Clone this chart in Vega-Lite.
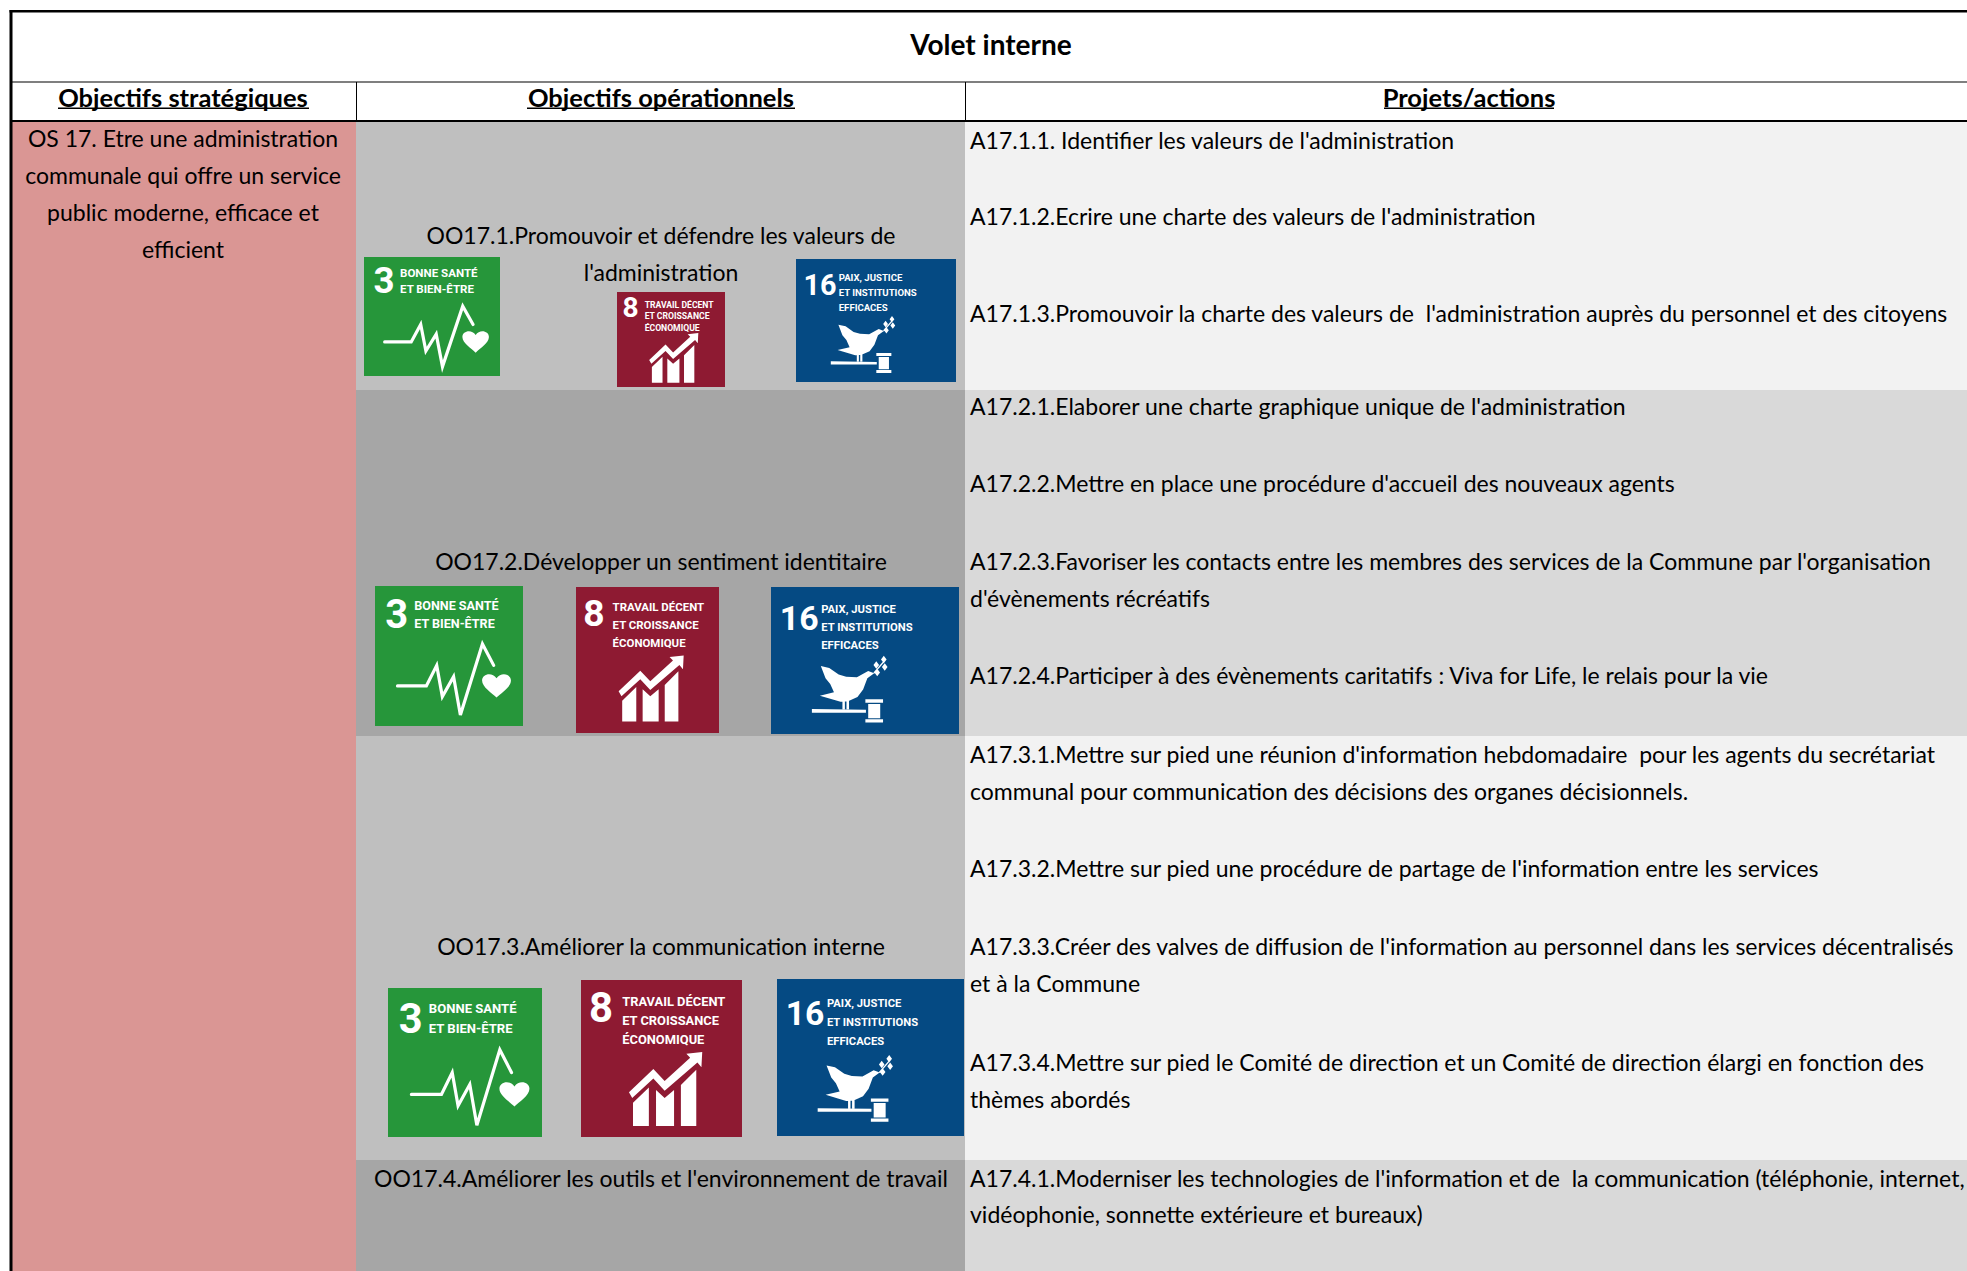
{
"$schema":"https://vega.github.io/schema/vega-lite/v6.json",
"width":1967,"height":1271,"padding":0,"autosize":{"type":"none"},"background":"#ffffff",
"config":{"view":{"stroke":null},"text":{"font":"Lato","fontSize":23,"color":"#000000"}},
"datasets":{
"cells":[
{"band":"os","x0":12,"x1":356,"y0":121,"y1":1271},
{"band":"oo1","x0":356,"x1":965,"y0":121,"y1":390},
{"band":"oo2","x0":356,"x1":965,"y0":390,"y1":736},
{"band":"oo1","x0":356,"x1":965,"y0":736,"y1":1160},
{"band":"oo2","x0":356,"x1":965,"y0":1160,"y1":1271},
{"band":"a1","x0":965,"x1":1967,"y0":121,"y1":390},
{"band":"a2","x0":965,"x1":1967,"y0":390,"y1":736},
{"band":"a1","x0":965,"x1":1967,"y0":736,"y1":1160},
{"band":"a2","x0":965,"x1":1967,"y0":1160,"y1":1271},
{"band":"line","x0":9.5,"x1":12.5,"y0":10,"y1":1271},
{"band":"line","x0":9.5,"x1":1967,"y0":10,"y1":12.5},
{"band":"line","x0":12,"x1":1967,"y0":81.5,"y1":82.5},
{"band":"line","x0":12,"x1":1967,"y0":120,"y1":122},
{"band":"line","x0":356,"x1":357,"y0":82,"y1":121},
{"band":"line","x0":965,"x1":966,"y0":82,"y1":121},
{"band":"line","x0":58,"x1":309,"y0":107.5,"y1":109},
{"band":"line","x0":527,"x1":795,"y0":107.5,"y1":109},
{"band":"line","x0":1384,"x1":1554,"y0":107.5,"y1":109}
],
"icons":[
{"id":"a3","goal":3,"x0":364,"x1":500,"y0":257,"y1":376},
{"id":"a8","goal":8,"x0":617,"x1":725,"y0":292,"y1":387},
{"id":"a16","goal":16,"x0":796,"x1":956,"y0":259,"y1":382},
{"id":"b3","goal":3,"x0":375,"x1":523,"y0":586,"y1":726},
{"id":"b8","goal":8,"x0":576,"x1":719,"y0":587,"y1":733},
{"id":"b16","goal":16,"x0":771,"x1":959,"y0":587,"y1":734},
{"id":"c3","goal":3,"x0":388,"x1":542,"y0":988,"y1":1137},
{"id":"c8","goal":8,"x0":581,"x1":742,"y0":980,"y1":1137},
{"id":"c16","goal":16,"x0":777,"x1":964,"y0":979,"y1":1136}
],
"iconLabels":[
{"goal":3,"lines":["3","BONNE SANTÉ","ET BIEN-ÊTRE"],"fx":[0.07,0.265,0.265],"fy":[0.30,0.171,0.30],"fs":[0.27,0.085,0.085]},
{"goal":8,"lines":["8","TRAVAIL DÉCENT","ET CROISSANCE","ÉCONOMIQUE"],"fx":[0.05,0.256,0.256,0.256],"fy":[0.267,0.164,0.288,0.409],"fs":[0.26,0.08,0.08,0.08]},
{"goal":16,"lines":["16","PAIX, JUSTICE","ET INSTITUTIONS","EFFICACES"],"fx":[0.047,0.267,0.267,0.267],"fy":[0.293,0.179,0.30,0.422],"fs":[0.18,0.06,0.06,0.06]}
],
"pulse":[
{"goal":3,"px":[0.152,0.347,0.417,0.455,0.531,0.577,0.726,0.802],"py":[0.714,0.714,0.567,0.79,0.648,0.921,0.414,0.567]}
],
"heading":[
{"text":"Volet interne","x":991,"y":47}
],
"titles":[
{"text":"Objectifs stratégiques","x":183,"y":99},
{"text":"Objectifs opérationnels","x":661,"y":99},
{"text":"Projets/actions","x":1469,"y":99}
],
"centred":[
{"text":"OS 17. Etre une administration","x":183,"y":140},
{"text":"communale qui offre un service","x":183,"y":177},
{"text":"public moderne, efficace et","x":183,"y":214},
{"text":"efficient","x":183,"y":251},
{"text":"OO17.1.Promouvoir et défendre les valeurs de","x":661,"y":237},
{"text":"l'administration","x":661,"y":274},
{"text":"OO17.2.Développer un sentiment identitaire","x":661,"y":563},
{"text":"OO17.3.Améliorer la communication interne","x":661,"y":948},
{"text":"OO17.4.Améliorer les outils et l'environnement de travail","x":661,"y":1180}
],
"actions":[
{"text":"A17.1.1. Identifier les valeurs de l'administration","x":970,"y":142},
{"text":"A17.1.2.Ecrire une charte des valeurs de l'administration","x":970,"y":218},
{"text":"A17.1.3.Promouvoir la charte des valeurs de \u00a0l'administration auprès du personnel et des citoyens","x":970,"y":315},
{"text":"A17.2.1.Elaborer une charte graphique unique de l'administration","x":970,"y":408},
{"text":"A17.2.2.Mettre en place une procédure d'accueil des nouveaux agents","x":970,"y":485},
{"text":"A17.2.3.Favoriser les contacts entre les membres des services de la Commune par l'organisation","x":970,"y":563},
{"text":"d'évènements récréatifs","x":970,"y":600},
{"text":"A17.2.4.Participer à des évènements caritatifs : Viva for Life, le relais pour la vie","x":970,"y":677},
{"text":"A17.3.1.Mettre sur pied une réunion d'information hebdomadaire \u00a0pour les agents du secrétariat","x":970,"y":756},
{"text":"communal pour communication des décisions des organes décisionnels.","x":970,"y":793},
{"text":"A17.3.2.Mettre sur pied une procédure de partage de l'information entre les services","x":970,"y":870},
{"text":"A17.3.3.Créer des valves de diffusion de l'information au personnel dans les services décentralisés","x":970,"y":948},
{"text":"et à la Commune","x":970,"y":985},
{"text":"A17.3.4.Mettre sur pied le Comité de direction et un Comité de direction élargi en fonction des","x":970,"y":1064},
{"text":"thèmes abordés","x":970,"y":1101},
{"text":"A17.4.1.Moderniser les technologies de l'information et de \u00a0la communication (téléphonie, internet,","x":970,"y":1180},
{"text":"vidéophonie, sonnette extérieure et bureaux)","x":970,"y":1216}
]
},
"layer":[
{"data":{"name":"cells"},"mark":{"type":"rect","strokeWidth":0},
 "encoding":{
  "x":{"field":"x0","type":"quantitative","scale":{"domain":[0,1967],"nice":false,"zero":false},"axis":null},
  "x2":{"field":"x1"},
  "y":{"field":"y0","type":"quantitative","scale":{"domain":[0,1271],"reverse":true,"nice":false,"zero":false},"axis":null},
  "y2":{"field":"y1"},
  "color":{"field":"band","type":"nominal","legend":null,"scale":{"domain":["os","oo1","oo2","a1","a2","line"],"range":["#DA9694","#BFBFBF","#A6A6A6","#F2F2F2","#D9D9D9","#000000"]}}
 }},
{"data":{"name":"icons"},"mark":{"type":"rect","strokeWidth":0},
 "encoding":{
  "x":{"field":"x0","type":"quantitative","scale":{"domain":[0,1967],"nice":false,"zero":false},"axis":null},
  "x2":{"field":"x1"},
  "y":{"field":"y0","type":"quantitative","scale":{"domain":[0,1271],"reverse":true,"nice":false,"zero":false},"axis":null},
  "y2":{"field":"y1"},
  "fill":{"field":"goal","type":"nominal","legend":null,"scale":{"domain":[3,8,16],"range":["#26963A","#8E1A32","#054A83"]}}
 }},
{"data":{"name":"icons"},
 "transform":[
  {"lookup":"goal","from":{"data":{"name":"iconLabels"},"key":"goal","fields":["lines","fx","fy","fs"]}},
  {"flatten":["lines","fx","fy","fs"]},
  {"calculate":"datum.x0+datum.fx*(datum.x1-datum.x0)","as":"lx"},
  {"calculate":"datum.y0+datum.fy*(datum.y1-datum.y0)","as":"ly"},
  {"calculate":"datum.fs*(datum.x1-datum.x0)","as":"ls"}
 ],
 "mark":{"type":"text","font":"Roboto","fontWeight":"bold","align":"left","baseline":"alphabetic","color":"#ffffff"},
 "encoding":{
  "x":{"field":"lx","type":"quantitative","scale":{"domain":[0,1967],"nice":false,"zero":false},"axis":null},
  "y":{"field":"ly","type":"quantitative","scale":{"domain":[0,1271],"reverse":true,"nice":false,"zero":false},"axis":null},
  "size":{"field":"ls","type":"quantitative","scale":null,"legend":null},
  "text":{"field":"lines","type":"nominal"}
 }},
{"data":{"name":"icons"},
 "transform":[
  {"filter":"datum.goal==3"},
  {"lookup":"goal","from":{"data":{"name":"pulse"},"key":"goal","fields":["px","py"]}},
  {"flatten":["px","py"]},
  {"calculate":"datum.x0+datum.px*(datum.x1-datum.x0)","as":"lx"},
  {"calculate":"datum.y0+datum.py*(datum.y1-datum.y0)","as":"ly"}
 ],
 "mark":{"type":"line","color":"#ffffff","strokeWidth":3.2,"strokeCap":"round","strokeJoin":"miter"},
 "encoding":{
  "x":{"field":"lx","type":"quantitative","scale":{"domain":[0,1967],"nice":false,"zero":false},"axis":null},
  "y":{"field":"ly","type":"quantitative","scale":{"domain":[0,1271],"reverse":true,"nice":false,"zero":false},"axis":null},
  "detail":{"field":"id","type":"nominal"}
 }},
{"data":{"name":"icons"},
 "transform":[
  {"filter":"datum.goal==3"},
  {"calculate":"datum.x0+0.821*(datum.x1-datum.x0)","as":"lx"},
  {"calculate":"datum.y0+0.707*(datum.y1-datum.y0)","as":"ly"},
  {"calculate":"pow(datum.x1-datum.x0,2)","as":"ls"}
 ],
 "mark":{"type":"point","filled":true,"opacity":1,"color":"#ffffff","strokeWidth":0,
  "shape":"M0 .17 C-.06 .11 -.195 .03 -.195 -.06 C-.195 -.15 -.06 -.18 0 -.09 C.06 -.18 .195 -.15 .195 -.06 C.195 .03 .06 .11 0 .17 Z"},
 "encoding":{
  "x":{"field":"lx","type":"quantitative","scale":{"domain":[0,1967],"nice":false,"zero":false},"axis":null},
  "y":{"field":"ly","type":"quantitative","scale":{"domain":[0,1271],"reverse":true,"nice":false,"zero":false},"axis":null},
  "size":{"field":"ls","type":"quantitative","scale":null,"legend":null}
 }},
{"data":{"name":"icons"},
 "transform":[
  {"filter":"datum.goal==8"},
  {"calculate":"datum.x0+0.528*(datum.x1-datum.x0)","as":"lx"},
  {"calculate":"datum.y0+0.705*(datum.y1-datum.y0)","as":"ly"},
  {"calculate":"pow(datum.x1-datum.x0,2)","as":"ls"}
 ],
 "mark":{"type":"point","filled":true,"opacity":1,"color":"#ffffff","strokeWidth":0,
  "shape":"M-.46 .02 L-.157 -.27 L-.017 -.12 L.30 -.41 L.253 -.46 L.45 -.48 L.44 -.29 L.39 -.35 L-.017 .0 L-.157 -.15 L-.42 .09 Z M-.41 .15 L-.213 -.04 L-.213 .44 L-.41 .44 Z M-.124 -.01 L-.017 .09 L.10 -.01 L.10 .44 L-.124 .44 Z M.185 -.07 L.376 -.26 L.376 .44 L.185 .44 Z"},
 "encoding":{
  "x":{"field":"lx","type":"quantitative","scale":{"domain":[0,1967],"nice":false,"zero":false},"axis":null},
  "y":{"field":"ly","type":"quantitative","scale":{"domain":[0,1271],"reverse":true,"nice":false,"zero":false},"axis":null},
  "size":{"field":"ls","type":"quantitative","scale":null,"legend":null}
 }},
{"data":{"name":"icons"},
 "transform":[
  {"filter":"datum.goal==16"},
  {"calculate":"datum.x0+0.41*(datum.x1-datum.x0)","as":"lx"},
  {"calculate":"datum.y0+0.723*(datum.y1-datum.y0)","as":"ly"},
  {"calculate":"pow(datum.x1-datum.x0,2)","as":"ls"}
 ],
 "mark":{"type":"point","filled":true,"opacity":1,"color":"#ffffff","strokeWidth":0,
  "shape":"M-.29 -.29 L-.2 -.27 L-.1 -.2 L-.02 -.177 L.094 -.17 L.214 -.238 L.278 -.213 L.205 -.16 L.16 -.04 L.1 .04 L0 .085 L-.08 .09 L-.30 .025 L-.15 -.01 L-.19 -.1 L-.24 -.16 Z M-.06 .07 L-.034 .07 L-.034 .17 L-.06 .17 Z M-.017 .07 L.01 .07 L.01 .17 L-.017 .17 Z M-.385 .167 L.19 .175 L.19 .206 L-.385 .206 Z M.184 .064 L.372 .064 L.372 .1 L.184 .1 Z M.214 .113 L.342 .113 L.342 .266 L.214 .266 Z M.184 .277 L.372 .277 L.372 .312 L.184 .312 Z M.27 -.22 L.40 -.37 L.41 -.36 L.28 -.21 Z M.38 -.40 L.41 -.36 L.38 -.32 L.35 -.36 Z M.30 -.34 L.33 -.30 L.30 -.26 L.27 -.30 Z M.39 -.32 L.42 -.28 L.39 -.24 L.36 -.28 Z M.31 -.26 L.34 -.22 L.31 -.18 L.28 -.22 Z"},
 "encoding":{
  "x":{"field":"lx","type":"quantitative","scale":{"domain":[0,1967],"nice":false,"zero":false},"axis":null},
  "y":{"field":"ly","type":"quantitative","scale":{"domain":[0,1271],"reverse":true,"nice":false,"zero":false},"axis":null},
  "size":{"field":"ls","type":"quantitative","scale":null,"legend":null}
 }},
{"data":{"name":"heading"},"mark":{"type":"text","fontWeight":"bold","fontSize":28,"align":"center","baseline":"middle"},
 "encoding":{
  "x":{"field":"x","type":"quantitative","scale":{"domain":[0,1967],"nice":false,"zero":false},"axis":null},
  "y":{"field":"y","type":"quantitative","scale":{"domain":[0,1271],"reverse":true,"nice":false,"zero":false},"axis":null},
  "text":{"field":"text","type":"nominal"}
 }},
{"data":{"name":"titles"},"mark":{"type":"text","fontWeight":"bold","fontSize":25.5,"align":"center","baseline":"middle"},
 "encoding":{
  "x":{"field":"x","type":"quantitative","scale":{"domain":[0,1967],"nice":false,"zero":false},"axis":null},
  "y":{"field":"y","type":"quantitative","scale":{"domain":[0,1271],"reverse":true,"nice":false,"zero":false},"axis":null},
  "text":{"field":"text","type":"nominal"}
 }},
{"data":{"name":"centred"},"mark":{"type":"text","align":"center","baseline":"middle"},
 "encoding":{
  "x":{"field":"x","type":"quantitative","scale":{"domain":[0,1967],"nice":false,"zero":false},"axis":null},
  "y":{"field":"y","type":"quantitative","scale":{"domain":[0,1271],"reverse":true,"nice":false,"zero":false},"axis":null},
  "text":{"field":"text","type":"nominal"}
 }},
{"data":{"name":"actions"},"mark":{"type":"text","align":"left","baseline":"middle"},
 "encoding":{
  "x":{"field":"x","type":"quantitative","scale":{"domain":[0,1967],"nice":false,"zero":false},"axis":null},
  "y":{"field":"y","type":"quantitative","scale":{"domain":[0,1271],"reverse":true,"nice":false,"zero":false},"axis":null},
  "text":{"field":"text","type":"nominal"}
 }}
]
}
